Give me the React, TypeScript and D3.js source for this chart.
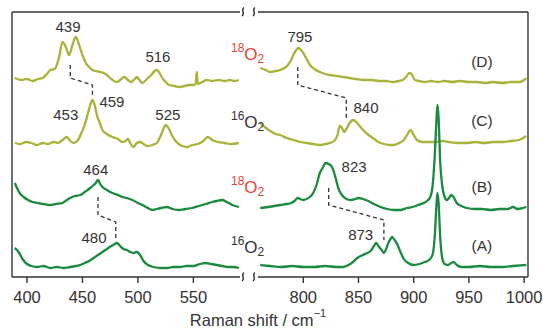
import { scaleLinear, line, curveMonotoneX } from 'd3'

// wavenumber (cm-1), intensity (arbitrary, stacked)
const leftD = [[389,199],[395,197],[400,198],[405,196],[410,198],[414,199],[418,203],[421,207],[425,208],[429,220],[432,235],[435,230],[438,222],[441,232],[444,240],[447,232],[450,222],[453,214],[456,210],[459,207],[462,206],[466,205],[469,204],[472,202],[476,198],[481,195],[485,198],[488,200],[491,197],[494,195],[497,198],[499,200],[502,196],[504,194],[508,198],[512,202],[515,206],[517,207],[520,203],[522,199],[525,195],[528,192],[533,191],[537,190],[542,191],[546,192],[550,192],[552,193],[553,205],[554,193],[558,195],[562,197],[567,196],[573,197],[578,196],[583,197],[587,196],[591,197]]
const leftC = [[389,134],[394,133],[399,135],[404,134],[409,132],[414,134],[419,133],[424,135],[428,134],[432,137],[436,140],[439,136],[442,134],[446,137],[449,144],[452,152],[455,164],[457,172],[459,177],[461,172],[463,162],[466,153],[468,147],[472,143],[477,140],[482,138],[486,135],[489,136],[491,138],[493,134],[496,130],[499,134],[502,135],[505,133],[509,131],[513,132],[517,134],[520,140],[523,148],[525,152],[528,148],[531,141],[534,136],[538,132],[544,130],[549,132],[554,133],[559,136],[563,140],[567,137],[572,135],[578,134],[584,133],[591,134]]
const leftB = [[389,94],[391,89],[394,83],[397,80],[401,77],[405,75],[410,74],[415,73],[421,72],[426,73],[432,74],[436,77],[439,79],[443,81],[448,82],[452,85],[457,89],[460,92],[462,94],[464,97],[466,93],[468,90],[472,87],[477,84],[482,82],[486,80],[490,79],[495,77],[500,74],[504,72],[509,69],[513,67],[517,68],[521,69],[526,70],[531,68],[537,67],[543,68],[549,69],[555,71],[561,73],[567,75],[571,76],[576,77],[580,75],[585,72],[591,70]]
const leftA = [[389,29],[391,27],[393,24],[396,18],[400,13],[404,11],[409,10],[415,11],[421,9],[427,10],[433,9],[439,10],[444,11],[448,12],[452,14],[456,16],[460,19],[464,22],[468,25],[472,28],[476,31],[479,33],[481,34],[484,31],[487,28],[490,27],[493,25],[496,24],[499,25],[502,22],[505,16],[509,12],[514,10],[520,9],[526,9],[532,10],[538,10],[544,11],[550,11],[556,13],[561,14],[566,13],[571,12],[576,11],[581,10],[586,10],[591,9]]

const rightD = [[761,209],[766,207],[770,205],[775,206],[779,207],[783,209],[786,212],[789,217],[791,222],[793,226],[795.5,229],[798,227],[800,224],[803,218],[806,212],[810,208],[815,205],[820,203],[824,202],[830,201],[836,200],[842,199],[848,198],[855,197],[862,197],[869,196],[875,196],[881,195],[886,196],[890,197],[893,200],[896,204],[898,203],[901,197],[905,196],[910,195],[916,196],[922,195],[928,196],[935,195],[942,196],[950,195],[957,195],[965,194],[972,195],[980,194],[988,195],[996,195],[1000,197],[1002,199]]
const rightC = [[761,154],[765,150],[770,146],[775,143],[779,142],[785,139],[791,137],[797,135],[803,134],[809,133],[815,132],[820,133],[824,134],[828,136],[831,142],[833,151],[835,149],[837,145],[839,148],[842,154],[845,157],[848,155],[851,151],[855,146],[858,143],[863,139],[868,135],[873,133],[878,132],[882,132],[887,134],[891,137],[894,142],[897,147],[900,142],[903,137],[908,135],[914,135],[920,135],[926,136],[932,135],[940,134],[948,134],[956,135],[964,134],[972,135],[980,135],[988,136],[995,137],[999,139],[1002,141]]
const rightB = [[761,69],[768,70],[774,71],[779,72],[785,73],[789,74],[792,76],[795,79],[797,78],[800,77],[803,78],[806,80],[809,84],[812,92],[815,104],[818,110],[820,114],[823,113],[826,110],[828,104],[830,96],[832,88],[835,82],[839,78],[843,77],[847,78],[850,79],[854,78],[859,76],[864,73],[870,70],[876,68],[882,67],[888,67],[894,69],[899,70],[904,72],[909,74],[912,76],[915,80],[917,90],[919,120],[920.5,155],[921.5,172],[922.5,160],[924,115],[926,90],[928,80],[930,77],[932,79],[934,82],[936,80],[939,74],[943,71],[948,69],[955,68],[962,68],[970,67],[978,68],[985,68],[990,70],[994,68],[999,69],[1002,70]]
const rightA = [[761,12],[770,11],[780,10],[790,11],[800,10],[810,10],[820,11],[830,10],[836,10],[841,12],[845,15],[849,19],[854,22],[858,24],[861,26],[864,31],[866,34],[868,31],[871,27],[873,24],[875,28],[877,34],[879,38],[880.5,40],[882,38],[885,33],[888,25],[891,18],[895,14],[900,12],[905,13],[910,15],[914,17],[917,22],[919,40],[920.5,70],[921.5,84],[922.5,75],[924,40],[926,18],[928,13],[931,12],[934,14],[936,15],[939,12],[943,10],[950,10],[960,11],[970,10],[980,10],[990,11],[1002,12]]

const leftTicks = [400, 450, 500, 550]
const rightTicks = [800, 850, 900, 950, 1000]

// peak labels: [text, wavenumber, intensity]
const leftPeaks = [['439', 437, 245], ['516', 518, 215], ['453', 435, 157], ['459', 476.6, 170], ['525', 527, 157], ['464', 462, 102], ['480', 460.4, 34]]
const rightPeaks = [['795', 797, 235], ['840', 856.8, 164], ['823', 846, 105], ['873', 852, 37]]
const traceNames = [['(D)', 210], ['(C)', 151], ['(B)', 85], ['(A)', 26]]
// isotope labels: [mass, intensity of baseline]
const isotopes = [['18', 217], ['16', 149], ['18', 84], ['16', 24]]

// dashed shift connectors: [wn1, wn2, h1, h2, h3, h4]
const leftShifts = [[439, 459, 212, 199, 192, 180], [464, 480, 80, 62, 55, 39]]
const rightShifts = [[795, 839, 210, 192, 179, 159], [823, 873, 89, 72, 57, 37]]

const olive = '#a9b23a'
const green = '#1b8a3f'
const ink = '#333'
const font = '"Liberation Sans", Arial, sans-serif'

const W = 543
const H = 331
const top = 12
const bottom = 277

const xL = scaleLinear().domain([386.5, 592]).range([12, 240])
const xR = scaleLinear().domain([759, 1003.5]).range([258, 528])
const y = scaleLinear().domain([0, 265]).range([bottom, top])

const squiggle = (x: number, yy: number) =>
  `M${x + 1},${yy - 4.5} C${x - 3},${yy - 2} ${x + 3},${yy + 1} ${x - 1},${yy + 4}`

export default function App() {
  const lineL = line<number[]>().x((d) => xL(d[0])).y((d) => y(d[1])).curve(curveMonotoneX)
  const lineR = line<number[]>().x((d) => xR(d[0])).y((d) => y(d[1])).curve(curveMonotoneX)

  const traces = [
    { d: lineL(leftD), c: olive },
    { d: lineL(leftC), c: olive },
    { d: lineR(rightD), c: olive },
    { d: lineR(rightC), c: olive },
    { d: lineL(leftB), c: green },
    { d: lineL(leftA), c: green },
    { d: lineR(rightB), c: green },
    { d: lineR(rightA), c: green },
  ]

  const shiftPath = (s: number[], sx: (v: number) => number) =>
    `M${sx(s[0])},${y(s[2])} L${sx(s[0])},${y(s[3])} L${sx(s[1])},${y(s[4])} L${sx(s[1])},${y(s[5])}`

  const brk1 = xL.range()[1] + 3
  const brk2 = xR.range()[0] - 4

  return (
    <svg width={W} height={H} style={{ position: 'absolute', left: 0, top: 0, background: '#fff' }} fontFamily={font}>
      {/* frame */}
      <g stroke={ink} strokeWidth={1.4} fill="none">
        <line x1={12} x2={12} y1={top} y2={bottom} />
        <line x1={528} x2={528} y1={top} y2={bottom} />
        {[top, bottom].map((yy) => (
          <g key={yy}>
            <line x1={12} x2={xL.range()[1]} y1={yy} y2={yy} />
            <line x1={xR.range()[0]} x2={528} y1={yy} y2={yy} />
            <path d={squiggle(brk1, yy)} />
            <path d={squiggle(brk2, yy)} />
          </g>
        ))}
        {leftTicks.map((t) => (
          <line key={t} x1={xL(t)} x2={xL(t)} y1={bottom} y2={bottom + 6} />
        ))}
        {rightTicks.map((t) => (
          <line key={t} x1={xR(t)} x2={xR(t)} y1={bottom} y2={bottom + 6} />
        ))}
      </g>

      {/* tick labels */}
      <g fontSize={16.5} fill={ink} textAnchor="middle">
        {leftTicks.map((t) => (
          <text key={t} x={xL(t)} y={303}>{t}</text>
        ))}
        {rightTicks.map((t) => (
          <text key={t} x={xR(t)} y={303}>{t}</text>
        ))}
        <text x={258} y={326}>
          Raman shift / cm<tspan dy={-9} fontSize={11}>−1</tspan>
        </text>
      </g>

      {/* spectra */}
      {traces.map((t, i) => (
        <path key={i} d={t.d ?? ''} fill="none" stroke={t.c} strokeWidth={2.3} strokeLinejoin="round" />
      ))}

      {/* shift connectors */}
      <g fill="none" stroke={ink} strokeWidth={1.3} strokeDasharray="4,3">
        {leftShifts.map((s, i) => (
          <path key={'l' + i} d={shiftPath(s, xL)} />
        ))}
        {rightShifts.map((s, i) => (
          <path key={'r' + i} d={shiftPath(s, xR)} />
        ))}
      </g>

      {/* peak labels */}
      <g fontSize={15} fill={ink} textAnchor="middle">
        {leftPeaks.map((p) => (
          <text key={p[0]} x={xL(p[1] as number)} y={y(p[2] as number)}>{p[0]}</text>
        ))}
        {rightPeaks.map((p) => (
          <text key={p[0]} x={xR(p[1] as number)} y={y(p[2] as number)}>{p[0]}</text>
        ))}
        {traceNames.map((p) => (
          <text key={p[0]} x={xR(961.8)} y={y(p[1] as number)} fontSize={15.5}>{p[0]}</text>
        ))}
      </g>

      {/* isotope labels */}
      {isotopes.map((iso, i) => (
        <text key={i} x={231} y={y(iso[1] as number)} fill={iso[0] === '18' ? '#ee4035' : ink} fontSize={17}>
          <tspan fontSize={12} dy={-8}>{iso[0]}</tspan>
          <tspan dy={8}>O</tspan>
          <tspan fontSize={12} dy={3}>2</tspan>
        </text>
      ))}
    </svg>
  )
}
